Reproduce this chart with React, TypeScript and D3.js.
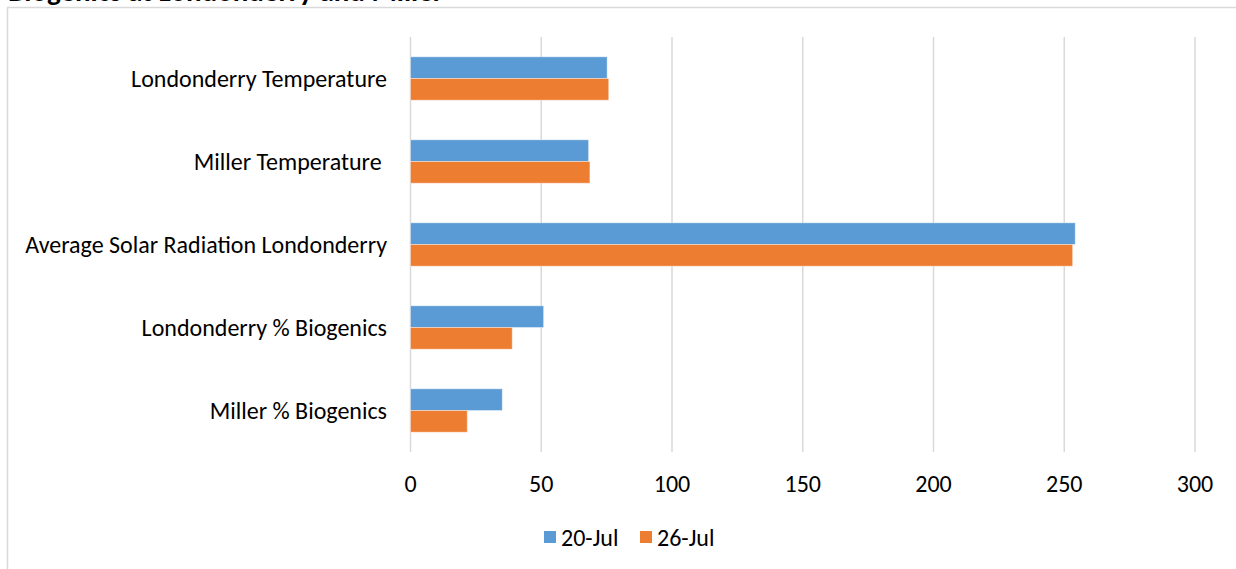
import React from "react";
import * as d3 from "d3";

const categories = [
  "Londonderry Temperature",
  "Miller Temperature ",
  "Average Solar Radiation Londonderry",
  "Londonderry % Biogenics",
  "Miller % Biogenics",
];
const seriesNames = ["20-Jul", "26-Jul"];
const jul20 = [75.2, 68.1, 254.2, 50.9, 35.1];
const jul26 = [75.8, 68.6, 253.2, 38.9, 21.7];
const xTicks = [0, 50, 100, 150, 200, 250, 300];
const colors = ["#5B9BD5", "#ED7D31"];
const title = "Biogenics at Londonderry and Miller";

const W = 1236;
const H = 569;
const FONT = "Carlito, Calibri, Lato, 'Open Sans', sans-serif";

export default function App() {
  const x = d3.scaleLinear().domain([0, 300]).range([410.5, 1195]);
  const pad = 0.477;
  const y = d3
    .scaleBand<string>()
    .domain(categories)
    .range([37, 452])
    .paddingInner(pad)
    .paddingOuter(pad / 2);
  const ys = d3
    .scaleBand<string>()
    .domain(seriesNames)
    .range([0, y.bandwidth()]);
  const values = [jul20, jul26];

  return (
    <svg
      width={W}
      height={H}
      style={{ position: "absolute", left: 0, top: 0, background: "#fff" }}
      fontFamily={FONT}
    >
      <rect x={0} y={0} width={W} height={H} fill="#fff" />
      <text x={8} y={1} fontSize={29} fontWeight="bold" fill="#000">
        {title}
      </text>
      <rect
        x={7.5}
        y={7.5}
        width={W + 20}
        height={H + 20}
        fill="#fff"
        stroke="#d9d9d9"
        strokeWidth={1.5}
      />
      {xTicks.map((t) => (
        <line
          key={"g" + t}
          x1={x(t)}
          x2={x(t)}
          y1={37}
          y2={452}
          stroke="#d9d9d9"
          strokeWidth={1.5}
        />
      ))}
      {categories.map((c, i) => (
        <g key={c} transform={`translate(0,${y(c)})`}>
          {seriesNames.map((s, j) => (
            <rect
              key={s}
              x={x(0)}
              y={ys(s)}
              width={x(values[j][i]) - x(0)}
              height={ys.bandwidth()}
              fill={colors[j]}
              stroke="#fff"
              strokeOpacity={0.4}
              strokeWidth={1}
            />
          ))}
        </g>
      ))}
      {categories.map((c) => (
        <text
          key={"l" + c}
          x={387}
          y={(y(c) as number) + y.bandwidth() / 2}
          textAnchor="end"
          dominantBaseline="central"
          fontSize={24}
          fill="#000"
          style={{ whiteSpace: "pre" }}
        >
          {c}
        </text>
      ))}
      {xTicks.map((t) => (
        <text
          key={"t" + t}
          x={x(t)}
          y={483}
          textAnchor="middle"
          dominantBaseline="central"
          fontSize={24}
          fill="#000"
        >
          {t}
        </text>
      ))}
      {seriesNames.map((s, j) => {
        const lx = [544, 640][j];
        return (
          <g key={"lg" + s}>
            <rect x={lx} y={531} width={12} height={12} fill={colors[j]} />
            <text
              x={lx + 17}
              y={537}
              dominantBaseline="central"
              fontSize={24}
              fill="#000"
            >
              {s}
            </text>
          </g>
        );
      })}
    </svg>
  );
}
